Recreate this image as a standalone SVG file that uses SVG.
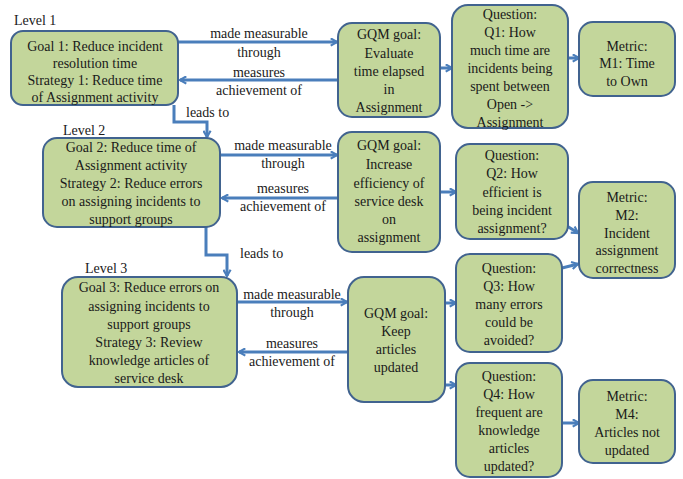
<svg xmlns="http://www.w3.org/2000/svg" width="683" height="479" viewBox="0 0 683 479">
<defs>
<marker id="ah" viewBox="0 0 10 10" refX="8.5" refY="5" markerWidth="9" markerHeight="9" markerUnits="userSpaceOnUse" orient="auto">
<path d="M1.5,1 L8.5,5 L1.5,9" fill="none" stroke="#4a7ebb" stroke-width="2.4"/>
</marker>
<style>
text{font-family:"Liberation Serif","Times New Roman",serif;font-size:14px}
.box{fill:#c3d69b;stroke:#41638f;stroke-width:2}
.t{fill:#1a1a1a;text-anchor:middle}
.l{fill:#1a1a1a}
.c{fill:none;stroke:#4a7ebb;stroke-width:3;marker-end:url(#ah)}
</style>
</defs>
<rect width="683" height="479" fill="#ffffff"/>
<g id="labels">
<text class="l" x="14" y="25">Level 1</text>
<text class="l" x="63" y="135">Level 2</text>
<text class="l" x="85" y="273">Level 3</text>
</g>
<g id="connectors">
<path class="c" d="M178,42 H337"/>
<path class="c" d="M338,80 H180"/>
<path class="c" d="M220,155 H337"/>
<path class="c" d="M338,198 H222"/>
<path class="c" d="M237,302 H347"/>
<path class="c" d="M348,352 H239"/>
<path class="c" d="M174,105 V122 H207 V137"/>
<path class="c" d="M206,227 V255 H227 V276"/>
<path class="c" d="M440,68 H452"/>
<path class="c" d="M568,58 H579"/>
<path class="c" d="M440,192 H456"/>
<path class="c" d="M567,226 L578,233"/>
<path class="c" d="M562,268 L578,264"/>
<path class="c" d="M445,303 H456"/>
<path class="c" d="M445,385 H456"/>
<path class="c" d="M562,423 H579"/>
<text class="t" x="259" y="38">made measurable</text>
<text class="t" x="259" y="57">through</text>
<text class="t" x="259" y="77">measures</text>
<text class="t" x="259" y="95">achievement of</text>
<text class="t" x="283" y="150">made measurable</text>
<text class="t" x="283" y="168">through</text>
<text class="t" x="283" y="193">measures</text>
<text class="t" x="283" y="211">achievement of</text>
<text class="t" x="292" y="299">made measurable</text>
<text class="t" x="292" y="317">through</text>
<text class="t" x="292" y="348">measures</text>
<text class="t" x="292" y="366">achievement of</text>
<text class="l" x="186" y="117">leads to</text>
<text class="l" x="240" y="258">leads to</text>
</g>
<g id="goal1">
<rect class="box" x="11" y="31" width="167" height="74" rx="12"/>
<text class="t" x="95" y="51">Goal 1: Reduce incident</text>
<text class="t" x="95" y="68">resolution time</text>
<text class="t" x="95" y="85">Strategy 1: Reduce time</text>
<text class="t" x="95" y="102">of Assignment activity</text>
</g>
<g id="gqm1">
<rect class="box" x="338" y="23" width="102" height="94" rx="14"/>
<text class="t" x="389" y="39">GQM goal:</text>
<text class="t" x="389" y="58">Evaluate</text>
<text class="t" x="389" y="76">time elapsed</text>
<text class="t" x="389" y="94">in</text>
<text class="t" x="389" y="112">Assignment</text>
</g>
<g id="q1">
<rect class="box" x="452" y="5" width="116" height="123" rx="16"/>
<text class="t" x="510" y="19">Question:</text>
<text class="t" x="510" y="37">Q1: How</text>
<text class="t" x="510" y="55">much time are</text>
<text class="t" x="510" y="73">incidents being</text>
<text class="t" x="510" y="91">spent between</text>
<text class="t" x="510" y="109">Open -&gt;</text>
<text class="t" x="510" y="127">Assignment</text>
</g>
<g id="m1">
<rect class="box" x="579" y="22" width="96" height="74" rx="14"/>
<text class="t" x="627" y="51">Metric:</text>
<text class="t" x="627" y="68">M1: Time</text>
<text class="t" x="627" y="86">to Own</text>
</g>
<g id="goal2">
<rect class="box" x="43" y="138" width="177" height="89" rx="14"/>
<text class="t" x="131" y="152">Goal 2: Reduce time of</text>
<text class="t" x="131" y="170">Assignment activity</text>
<text class="t" x="131" y="188">Strategy 2: Reduce errors</text>
<text class="t" x="131" y="206">on assigning incidents to</text>
<text class="t" x="131" y="224">support groups</text>
</g>
<g id="gqm2">
<rect class="box" x="338" y="132" width="102" height="120" rx="14"/>
<text class="t" x="389" y="150">GQM goal:</text>
<text class="t" x="389" y="169">Increase</text>
<text class="t" x="389" y="188">efficiency of</text>
<text class="t" x="389" y="206">service desk</text>
<text class="t" x="389" y="224">on</text>
<text class="t" x="389" y="242">assignment</text>
</g>
<g id="q2">
<rect class="box" x="456" y="144" width="112" height="95" rx="14"/>
<text class="t" x="512" y="160">Question:</text>
<text class="t" x="512" y="178">Q2: How</text>
<text class="t" x="512" y="197">efficient is</text>
<text class="t" x="512" y="215">being incident</text>
<text class="t" x="512" y="233">assignment?</text>
</g>
<g id="m2">
<rect class="box" x="579" y="182" width="96" height="96" rx="14"/>
<text class="t" x="627" y="202">Metric:</text>
<text class="t" x="627" y="220">M2:</text>
<text class="t" x="627" y="238">Incident</text>
<text class="t" x="627" y="255">assignment</text>
<text class="t" x="627" y="273">correctness</text>
</g>
<g id="goal3">
<rect class="box" x="62" y="277" width="175" height="110" rx="16"/>
<text class="t" x="149" y="292">Goal 3: Reduce errors on</text>
<text class="t" x="149" y="311">assigning incidents to</text>
<text class="t" x="149" y="329">support groups</text>
<text class="t" x="149" y="347">Strategy 3: Review</text>
<text class="t" x="149" y="365">knowledge articles of</text>
<text class="t" x="149" y="383">service desk</text>
</g>
<g id="gqm3">
<rect class="box" x="348" y="277" width="97" height="125" rx="16"/>
<text class="t" x="396" y="318">GQM goal:</text>
<text class="t" x="396" y="336">Keep</text>
<text class="t" x="396" y="354">articles</text>
<text class="t" x="396" y="372">updated</text>
</g>
<g id="q3">
<rect class="box" x="456" y="254" width="106" height="98" rx="14"/>
<text class="t" x="509" y="273">Question:</text>
<text class="t" x="509" y="291">Q3: How</text>
<text class="t" x="509" y="309">many errors</text>
<text class="t" x="509" y="327">could be</text>
<text class="t" x="509" y="345">avoided?</text>
</g>
<g id="q4">
<rect class="box" x="456" y="363" width="106" height="114" rx="14"/>
<text class="t" x="509" y="381">Question:</text>
<text class="t" x="509" y="399">Q4: How</text>
<text class="t" x="509" y="417">frequent are</text>
<text class="t" x="509" y="435">knowledge</text>
<text class="t" x="509" y="453">articles</text>
<text class="t" x="509" y="471">updated?</text>
</g>
<g id="m4">
<rect class="box" x="579" y="380" width="96" height="83" rx="14"/>
<text class="t" x="627" y="401">Metric:</text>
<text class="t" x="627" y="419">M4:</text>
<text class="t" x="627" y="437">Articles not</text>
<text class="t" x="627" y="455">updated</text>
</g>
</svg>
